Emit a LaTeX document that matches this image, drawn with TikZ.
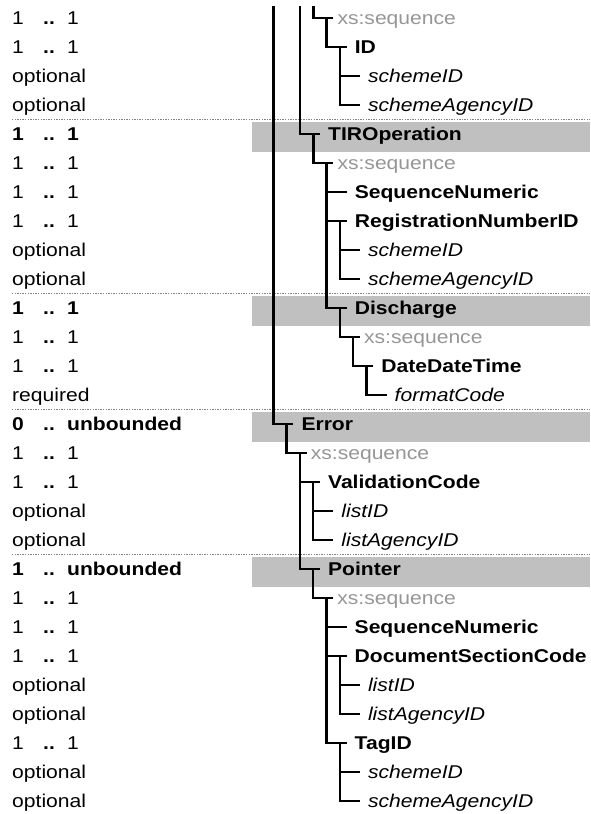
\documentclass[tikz,border=0pt]{standalone}
\usepackage{fontspec}
\setmainfont{Liberation Sans}[FakeStretch=1.14]
\definecolor{seqgray}{RGB}{150,150,150}
\definecolor{bandgray}{RGB}{192,192,192}
\definecolor{dotgray}{RGB}{130,130,130}
\newcommand\By[1]{24.5+(#1-1)*29}
\newcommand\Cy[1]{18+(#1-1)*29}
\tikzset{
  lbl/.style={anchor=base west, inner sep=0pt, font=\fontsize{18.5}{20}\selectfont},
  lblb/.style={lbl, font=\fontsize{18.5}{20}\selectfont\bfseries},
  el/.style={lblb},
  attr/.style={lbl, font=\fontsize{18.5}{20}\selectfont\itshape},
  sq/.style={lbl, text=seqgray, xshift=-4pt},
  conn/.style={line width=2.4pt},
  mainconn/.style={line width=2.8pt},
  thinconn/.style={line width=1.8pt},
  band/.style={fill=bandgray, draw=none},
  sepline/.style={draw=dotgray, line width=1.3pt, dash pattern=on 1.3pt off 1.3pt},
}
% tree node: id, row, parent id, parent x, style, text
\newcommand\tnode[6]{%
  \coordinate (e#1) at ({#4+20},{\Cy{#2}});
  \coordinate (s#1) at ({#4+13.3},{\Cy{#2}});
  \node[#5] (#1) at ({#4+28},{\By{#2}}) {#6};
  \draw[conn] (s#3) |- (e#1);
}
% occurrence: row, min, max, style
\newcommand\occ[4]{%
  \node[#4] (mn#1) at (12,{\By{#1}}) {#2};
  \node[lblb] (dd#1) at (43,{\By{#1}}) {..};
  \node[#4] (mx#1) at (67,{\By{#1}}) {#3};
}
\newcommand\usetxt[2]{%
  \node[lbl] (us#1) at (12,{\By{#1}}) {#2};
}
\begin{document}
\begin{tikzpicture}[x=1pt,y=-1pt]
\useasboundingbox (0,0) rectangle (590,814);
% bands and separators
\foreach \r in {5,11,15,20}{
  \fill[bandgray] (251.7,{\By{\r}-19}) rectangle (590,{\By{\r}+11});
  \draw[sepline] (12,{\By{\r}-21}) -- (590,{\By{\r}-21});
}
% off-picture parents
\coordinate (sTopA) at (273.3,6);
\coordinate (sTopB) at (300,6);
\coordinate (sTopC) at (313.3,6);
\draw[mainconn] (sTopA) -- (273.3,{\Cy{15}});
\draw[thinconn] (sTopB) -- (300,{\Cy{5}});
% tree
\tnode{q1}{1}{TopC}{313.3}{sq}{xs:sequence}
\tnode{id2}{2}{q1}{326.6}{el}{ID}
\tnode{a3}{3}{id2}{339.9}{attr}{schemeID}
\tnode{a4}{4}{id2}{339.9}{attr}{schemeAgencyID}
\tnode{tir}{5}{TopB}{300}{el}{TIROperation}
\tnode{q6}{6}{tir}{313.3}{sq}{xs:sequence}
\tnode{sn7}{7}{q6}{326.6}{el}{SequenceNumeric}
\tnode{rn8}{8}{q6}{326.6}{el}{RegistrationNumberID}
\tnode{a9}{9}{rn8}{339.9}{attr}{schemeID}
\tnode{a10}{10}{rn8}{339.9}{attr}{schemeAgencyID}
\tnode{dis}{11}{q6}{326.6}{el}{Discharge}
\tnode{q12}{12}{dis}{339.9}{sq}{xs:sequence}
\tnode{ddt}{13}{q12}{353.2}{el}{DateDateTime}
\tnode{a14}{14}{ddt}{366.5}{attr}{formatCode}
\tnode{err}{15}{TopA}{273.3}{el}{Error}
\tnode{q16}{16}{err}{286.6}{sq}{xs:sequence}
\tnode{vc}{17}{q16}{299.9}{el}{ValidationCode}
\tnode{a18}{18}{vc}{313.2}{attr}{listID}
\tnode{a19}{19}{vc}{313.2}{attr}{listAgencyID}
\tnode{ptr}{20}{q16}{299.9}{el}{Pointer}
\tnode{q21}{21}{ptr}{313.2}{sq}{xs:sequence}
\tnode{sn22}{22}{q21}{326.5}{el}{SequenceNumeric}
\tnode{dsc}{23}{q21}{326.5}{el}{DocumentSectionCode}
\tnode{a24}{24}{dsc}{339.8}{attr}{listID}
\tnode{a25}{25}{dsc}{339.8}{attr}{listAgencyID}
\tnode{tag}{26}{q21}{326.5}{el}{TagID}
\tnode{a27}{27}{tag}{339.8}{attr}{schemeID}
\tnode{a28}{28}{tag}{339.8}{attr}{schemeAgencyID}
% occurrences
\occ{1}{1}{1}{lbl}
\occ{2}{1}{1}{lbl}
\usetxt{3}{optional}
\usetxt{4}{optional}
\occ{5}{1}{1}{lblb}
\occ{6}{1}{1}{lbl}
\occ{7}{1}{1}{lbl}
\occ{8}{1}{1}{lbl}
\usetxt{9}{optional}
\usetxt{10}{optional}
\occ{11}{1}{1}{lblb}
\occ{12}{1}{1}{lbl}
\occ{13}{1}{1}{lbl}
\usetxt{14}{required}
\occ{15}{0}{unbounded}{lblb}
\occ{16}{1}{1}{lbl}
\occ{17}{1}{1}{lbl}
\usetxt{18}{optional}
\usetxt{19}{optional}
\occ{20}{1}{unbounded}{lblb}
\occ{21}{1}{1}{lbl}
\occ{22}{1}{1}{lbl}
\occ{23}{1}{1}{lbl}
\usetxt{24}{optional}
\usetxt{25}{optional}
\occ{26}{1}{1}{lbl}
\usetxt{27}{optional}
\usetxt{28}{optional}
\end{tikzpicture}
\end{document}
